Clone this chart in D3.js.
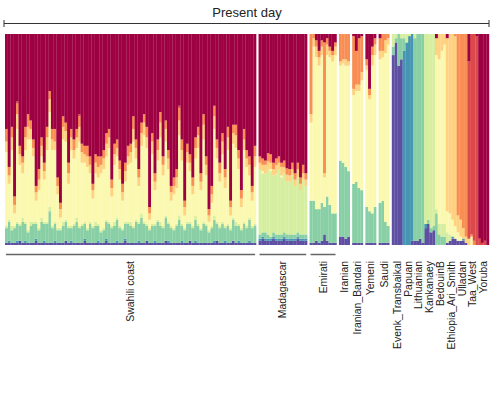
<!DOCTYPE html>
<html>
<head>
<meta charset="utf-8">
<script src="https://cdn.jsdelivr.net/npm/d3@7"></script>
<style>
  body { margin: 0; background: #fff; }
  text { font-family: "Liberation Sans", Arial, Helvetica, sans-serif; }
</style>
</head>
<body>
<script>
// ancestry components, bottom to top of every bar
const components = ["Evenk_Transbaikal", "Papuan", "Lithuanian", "Kankanaey", "BedouinB",
  "Ethiopia_Ari_Smith", "Ulladan", "Taa_West", "Yoruba"];

// one row per individual, percentages in the order of `components`
const swahili = [
  [1,0,7,1,35,5,6,0,45], [1,1,9,1,17,4,4,0,63], [1,0,6,2,36,6,5,0,44], [1,0,7,1,6,4,4,0,77],
  [1,1,8,1,44,7,5,1,32], [2,0,7,1,28,5,4,0,53], [1,0,10,2,21,5,3,0,58], [1,1,8,1,34,6,5,0,44],
  [1,0,5,1,43,6,6,0,38], [1,0,8,2,39,5,4,0,41], [1,0,9,1,31,4,4,0,50], [2,1,7,1,10,4,3,0,72],
  [1,0,6,1,18,5,5,0,64], [1,0,10,2,29,5,4,0,49], [1,1,8,1,20,4,4,0,61], [1,0,9,1,34,6,5,0,44],
  [1,0,15,2,45,6,4,0,27], [1,0,7,1,36,5,5,0,45], [1,1,8,1,34,4,6,0,45], [1,0,6,1,16,4,4,0,68],
  [1,0,6,1,5,4,3,0,80], [1,0,8,2,39,6,5,0,39], [2,0,9,1,37,5,4,0,42], [1,0,7,1,20,5,5,0,61],
  [1,1,6,1,36,6,4,0,45], [1,0,8,1,31,4,5,0,50], [1,0,10,2,33,5,4,0,45], [1,0,7,1,40,7,5,1,38],
  [1,0,8,1,29,5,4,0,52], [2,1,7,1,28,4,4,0,53], [1,0,6,1,29,5,5,0,53], [1,0,9,1,23,4,4,0,58],
  [1,0,7,1,13,4,3,0,71], [1,0,8,2,23,5,4,0,57], [1,1,7,1,22,5,5,0,58], [1,0,5,1,27,4,4,0,58],
  [1,0,6,1,28,5,4,0,55], [2,1,8,1,30,6,5,0,47], [1,0,9,1,35,5,4,0,45], [1,0,7,1,14,4,4,0,69],
  [1,0,8,2,27,5,5,0,52], [1,1,10,1,29,4,4,0,50], [1,0,7,1,22,5,4,0,60], [1,0,6,1,13,4,4,0,71],
  [2,1,7,1,19,5,4,0,61], [1,0,9,1,27,4,5,0,53], [1,0,8,2,28,5,4,0,52], [1,0,7,1,40,6,6,0,39],
  [1,0,10,1,29,5,4,0,50], [1,1,8,1,17,4,4,0,64], [1,0,12,2,32,6,5,0,42], [1,0,9,1,41,6,4,0,38],
  [2,0,7,1,36,5,5,0,44], [1,0,6,1,4,3,3,0,82], [1,0,8,1,33,6,4,0,47], [1,1,7,1,16,4,4,0,66],
  [1,0,10,1,28,5,5,0,50], [1,0,8,2,40,7,5,0,37], [1,0,7,1,24,5,4,0,58], [2,0,11,1,35,6,4,0,41],
  [1,1,8,1,25,5,4,0,55], [1,0,7,1,12,4,3,0,72], [1,0,6,1,16,4,4,0,68], [1,0,8,1,17,5,4,0,64],
  [1,0,11,2,38,7,6,1,34], [1,1,7,1,30,5,5,0,50], [1,0,6,1,6,4,3,0,79], [1,0,9,1,28,5,4,0,52],
  [2,0,8,1,24,4,4,0,57], [1,0,7,1,15,4,4,0,68], [1,1,10,2,27,5,5,0,49], [1,0,8,1,36,6,4,0,44],
  [1,0,6,1,18,4,4,0,66], [1,0,9,1,39,7,5,0,38], [1,0,8,1,23,5,4,0,58], [1,0,5,1,4,3,3,0,83],
  [1,0,7,1,11,4,4,0,72], [1,1,10,2,41,6,5,0,34], [2,0,8,1,30,5,4,0,50], [1,0,7,1,21,4,5,0,61],
  [1,0,9,1,32,6,4,0,47], [1,1,6,1,18,5,4,0,64], [1,0,8,1,35,6,5,0,44], [1,0,6,1,6,4,3,0,79],
  [2,0,10,1,35,5,4,0,43], [1,0,8,2,35,6,5,0,43], [1,1,7,1,26,5,4,0,55], [1,0,6,1,10,4,4,0,74],
  [1,0,9,1,34,5,5,0,45], [1,0,7,1,28,4,4,0,55], [1,1,10,1,20,5,4,0,58], [1,0,7,1,12,4,3,0,72],
  [1,0,8,1,27,5,5,0,53]
];

const madagascar = [
  [2,1,2,31,0,3,3,0,58], [3,1,2,28,1,3,3,0,59], [2,1,3,28,0,4,2,0,60], [2,1,2,31,0,4,4,0,57],
  [2,1,1,31,1,3,4,0,57], [3,1,2,27,0,3,3,0,61], [2,1,2,29,0,4,3,0,59], [2,1,2,31,0,3,3,0,58],
  [2,1,2,27,1,4,2,0,61], [3,1,2,28,0,3,3,0,60], [2,1,2,25,0,3,3,0,63], [2,1,2,25,0,3,3,0,64],
  [2,1,2,28,0,3,3,0,61], [2,1,2,23,0,3,3,0,66], [3,1,2,26,0,4,3,0,61], [2,1,2,21,0,3,3,0,68],
  [2,1,2,26,0,3,4,0,62], [2,1,2,23,0,3,3,0,66]
];

const emirati = [
  [1,0,20,0,37,4,38,0,0], [1,0,20,0,73,4,2,0,0], [2,0,15,0,72,5,3,0,3], [1,0,16,0,68,4,3,0,8],
  [2,0,18,0,70,4,3,0,3], [5,0,13,0,14,2,62,0,4], [2,0,21,0,67,5,3,0,2], [1,0,18,0,70,3,2,0,6],
  [1,0,14,0,72,3,2,0,8], [1,0,14,0,75,4,2,0,4]
];
const iranian = [[4,0,36,0,45,2,13,0,0], [4,0,35,0,47,2,12,0,0], [3,0,34,0,48,3,12,0,0], [4,0,31,0,50,2,13,0,0]];
const iranianBandari = [[1,0,28,0,42,3,25,0,1], [1,0,29,0,43,3,16,0,8], [1,0,26,0,46,3,22,0,2], [1,0,25,0,52,4,17,0,1]];
const yemeni = [[1,0,17,0,65,2,3,0,12], [1,0,15,0,53,2,3,0,26], [1,0,14,0,70,5,4,0,6], [1,0,17,0,72,5,3,0,2]];
const saudi = [[1,0,19,0,68,4,6,0,2], [1,0,20,0,68,3,8,0,0], [1,0,10,0,80,6,3,0,0], [1,0,8,0,86,3,2,0,0]];

// reference populations (no gaps between them)
const evenk = [[90,0,4,6], [96,0,2,2], [85,0,15,0], [88,0,10,2]];
const papuan = [[0,92,6,2], [0,96,0,4], [0,99,0,1], [2,98,0,0]];
const lithuanian = [[2,0,96,2], [2,0,98,0], [3,0,97,0], [1,0,99,0]];
const kankanaey = [[8,2,0,90], [10,0,2,88], [6,0,2,92], [7,0,2,91]];
const bedouinB = [[0,0,15,2,73,8,0,0,2], [0,0,5,5,78,12,0,0,0], [0,0,4,6,82,8,0,0,0], [0,0,4,6,85,5,0,0,0]];
const ethiopia = [[1,0,0,5,10,82,0,0,2], [2,0,0,3,10,85,0,0,0], [3,1,0,0,8,88,0,0,0], [3,0,0,0,6,90,1,0,0]];
const ulladan = [[2,0,0,0,4,8,86,0,0], [2,0,0,0,2,8,88,0,0], [2,1,0,0,0,5,92,0,0], [1,0,0,0,0,3,96,0,0]];
const taaWest = [[0,0,0,0,0,3,0,84,13], [0,0,0,0,4,0,1,95,0], [0,0,0,0,0,0,2,98,0], [0,0,0,0,0,0,0,99,1]];
const yoruba = [[0,0,0,0,0,0,0,3,97], [0,0,0,0,0,0,0,1,99], [0,0,0,0,0,0,0,2,98], [0,0,0,0,0,0,0,0,100]];

// panels are separated by a white gap
const panels = [
  [["Swahili coast", swahili]],
  [["Madagascar", madagascar]],
  [["Emirati", emirati]],
  [["Iranian", iranian]],
  [["Iranian_Bandari", iranianBandari]],
  [["Yemeni", yemeni]],
  [["Saudi", saudi]],
  [["Evenk_Transbaikal", evenk], ["Papuan", papuan], ["Lithuanian", lithuanian], ["Kankanaey", kankanaey],
   ["BedouinB", bedouinB], ["Ethiopia_Ari_Smith", ethiopia], ["Ulladan", ulladan], ["Taa_West", taaWest],
   ["Yoruba", yoruba]]
];

const width = 498, height = 396;
const gapUnits = 0.89;

let pos = 0;
const bars = [];
const spans = [];
panels.forEach((panel, pi) => {
  if (pi > 0) pos += gapUnits;
  panel.forEach(([name, rows]) => {
    const start = pos;
    rows.forEach((r, i) => {
      const d = { pos: pos, last: i === rows.length - 1 };
      components.forEach((c, k) => d[c] = r[k] || 0);
      bars.push(d);
      pos += 1;
    });
    spans.push({ name: name, start: start, end: pos, n: rows.length });
  });
});

const x = d3.scaleLinear().domain([0, pos]).range([5, 489]);
const y = d3.scaleLinear().domain([0, 1]).range([245, 34]);
const color = d3.scaleOrdinal()
  .domain(components)
  .range(d3.quantize(d3.interpolateSpectral, components.length).reverse());

const series = d3.stack().keys(components).offset(d3.stackOffsetExpand)(bars);

const svg = d3.select("body").append("svg")
  .attr("width", width)
  .attr("height", height);

// bars overlap a hair so the seams stay faint
svg.append("g")
  .selectAll("g")
  .data(series)
  .join("g")
  .attr("fill", s => color(s.key))
  .selectAll("rect")
  .data(s => s)
  .join("rect")
  .attr("x", d => x(d.data.pos))
  .attr("width", d => x(d.data.pos + 1) - x(d.data.pos) + 0.2)
  .attr("y", d => y(d[1]))
  .attr("height", d => y(d[0]) - y(d[1]));

// "Present day" bracket
const bracket = svg.append("g").attr("stroke", "#333").attr("stroke-width", 1);
bracket.append("line").attr("x1", x(0) - 1).attr("x2", x(pos)).attr("y1", 23.5).attr("y2", 23.5);
bracket.append("line").attr("x1", x(0) - 1).attr("x2", x(0) - 1).attr("y1", 20).attr("y2", 27);
bracket.append("line").attr("x1", x(pos)).attr("x2", x(pos)).attr("y1", 20).attr("y2", 27);
svg.append("text")
  .attr("x", (x(0) + x(pos)) / 2)
  .attr("y", 17)
  .attr("text-anchor", "middle")
  .attr("font-size", 13)
  .attr("fill", "#222")
  .text("Present day");

// group underlines for the larger groups
svg.append("g")
  .selectAll("line")
  .data(spans.filter(s => s.n >= 10))
  .join("line")
  .attr("x1", s => x(s.start) + 1)
  .attr("x2", s => x(s.end) - 1)
  .attr("y1", 254.5)
  .attr("y2", 254.5)
  .attr("stroke", "#666")
  .attr("stroke-width", 1.5);

svg.append("g")
  .selectAll("text")
  .data(spans)
  .join("text")
  .attr("transform", s => "translate(" + x((s.start + s.end) / 2) + ",261) rotate(-90)")
  .attr("dy", "0.35em")
  .attr("text-anchor", "end")
  .attr("font-size", 10.4)
  .attr("fill", "#222")
  .text(s => s.name);
</script>
</body>
</html>
